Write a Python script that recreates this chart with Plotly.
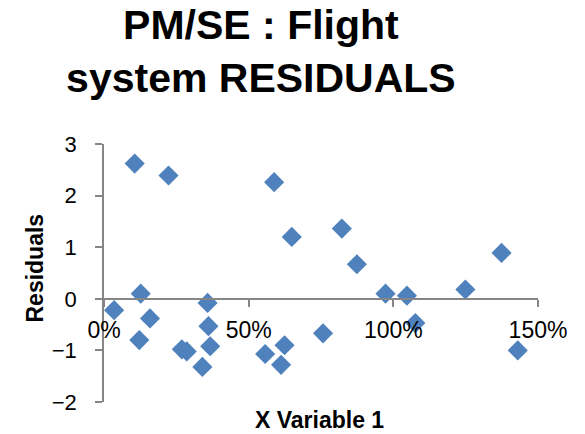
import plotly.graph_objects as go

# Regression residuals for the flight system cost model
x_variable_1 = [0.035, 0.106, 0.122, 0.127, 0.159, 0.223, 0.269, 0.286, 0.340,
                0.358, 0.361, 0.367, 0.557, 0.588, 0.612, 0.624, 0.649, 0.757,
                0.822, 0.874, 0.973, 1.047, 1.076, 1.249, 1.374, 1.430]
residuals = [-0.22, 2.62, -0.80, 0.10, -0.38, 2.39, -0.98, -1.02, -1.32,
             -0.08, -0.53, -0.92, -1.07, 2.26, -1.28, -0.90, 1.20, -0.67,
             1.36, 0.67, 0.10, 0.06, -0.47, 0.18, 0.89, -1.00]

x_ticks = [0, 0.5, 1.0, 1.5]
x_tick_labels = ["0%", "50%", "100%", "150%"]
y_ticks = [-2, -1, 0, 1, 2, 3]

FONT = "Liberation Sans, Arial, sans-serif"
AXIS_GREY = "#868686"
Y_MIN, Y_MAX = -2, 3

fig = go.Figure()
fig.add_trace(go.Scatter(
    x=x_variable_1, y=residuals, mode="markers",
    marker=dict(symbol="diamond", size=15.5, color="#4F81BD", line=dict(width=0)),
    cliponaxis=False, showlegend=False,
))

fig.update_layout(
    width=585, height=434,
    margin=dict(l=104, r=47, t=144, b=32),
    paper_bgcolor="white", plot_bgcolor="white",
    font=dict(family=FONT, color="black"),
    title=dict(
        text="<b>PM/SE : Flight<br>system RESIDUALS</b>",
        font=dict(size=41, family=FONT, color="black"),
        x=0.446, xanchor="center", xref="container",
        y=0.91, yanchor="top", yref="container",
    ),
    xaxis=dict(
        range=[0, 1.5], tickvals=x_ticks, ticktext=x_tick_labels,
        showgrid=False, zeroline=False,
        showline=True, linecolor=AXIS_GREY, linewidth=1.5,
        ticks="outside", ticklen=7, tickcolor=AXIS_GREY, tickwidth=1.5,
        tickfont=dict(size=23, family=FONT, color="black"),
        anchor="free", position=(0 - Y_MIN) / (Y_MAX - Y_MIN),
        ticklabelstandoff=4,
    ),
    yaxis=dict(
        range=[Y_MIN, Y_MAX], tickvals=y_ticks,
        showgrid=False, zeroline=False,
        showline=True, linecolor=AXIS_GREY, linewidth=1.5,
        ticks="outside", ticklen=7, tickcolor=AXIS_GREY, tickwidth=1.5,
        tickfont=dict(size=22, family=FONT, color="black"),
        ticklabelstandoff=14,
    ),
    annotations=[
        dict(text="<b>X Variable 1</b>", xref="paper", yref="paper",
             x=0.497, y=-0.07, xanchor="center", yanchor="middle",
             showarrow=False, font=dict(size=23, family=FONT, color="black")),
        dict(text="<b>Residuals</b>", xref="paper", yref="paper",
             x=-0.158, y=0.519, xanchor="center", yanchor="middle", textangle=-90,
             showarrow=False, font=dict(size=23, family=FONT, color="black")),
    ],
)

fig.write_html("out.html")
